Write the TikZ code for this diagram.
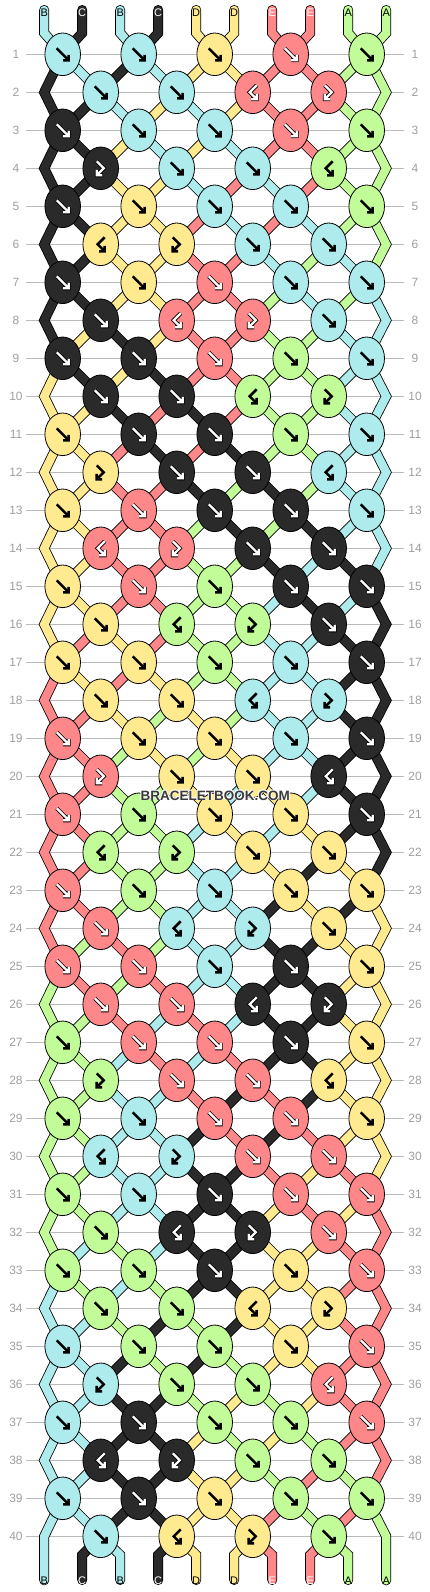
\documentclass[tikz,border=0pt]{standalone}
\usepackage{fontspec}
\setmainfont{Liberation Sans}
\usetikzlibrary{calc,shapes.geometric}

\definecolor{bbA}{HTML}{C2FC98}
\definecolor{bbB}{HTML}{AEEBEC}
\definecolor{bbC}{HTML}{2A2A2A}
\definecolor{bbD}{HTML}{FFEA90}
\definecolor{bbE}{HTML}{FE878A}
\colorlet{tabA}{black}
\colorlet{tabB}{black}
\colorlet{tabC}{white}
\colorlet{tabD}{black}
\colorlet{tabE}{white}
\definecolor{rowgray}{HTML}{BBBBBB}
\definecolor{numgray}{HTML}{9E9E9E}
\definecolor{markgray}{HTML}{3A3A3A}

\pgfdeclarelayer{strings}
\pgfsetlayers{strings,main}

\tikzset{
  knot/.style={ellipse, draw=black, line width=0.8pt, minimum width=35.6pt, minimum height=42.6pt, inner sep=0pt},
  strand/.style={draw=black, line width=0.8pt, double=#1, double distance=8.4pt, line join=miter, line cap=round},
  inkA/.style={draw=black, line width=2.5pt},
  inkB/.style={inkA},
  inkD/.style={inkA},
  inkC/.style={draw=black, line width=0.8pt, double=white, double distance=2.3pt},
  inkE/.style={inkC},
  tablbl/.style={font=\fontsize{11}{11}\selectfont, inner sep=0pt},
  rownum/.style={font=\fontsize{12}{12}\selectfont, text=numgray, inner sep=0pt},
  wmark/.style={font=\bfseries\fontsize{13.5}{13.5}\selectfont, inner sep=0pt},
  pics/gF/.style={code={\draw[ink#1] (-6,-6) -- (6,6) (6,0.5) -- (6,6) -- (0.5,6);}},
  pics/gL/.style={code={\draw[ink#1] (-4,-7) -- (3,0) -- (-4,7) (-4,1.5) -- (-4,7) -- (1.5,7);}},
  pics/gR/.style={code={\draw[ink#1] (4,-7) -- (-3,0) -- (4,7) (4,1.5) -- (4,7) -- (-1.5,7);}},
}

\begin{document}
\begin{tikzpicture}[x=1pt,y=-1pt]
\useasboundingbox (0,0) rectangle (430,1592);

% row numbers
\foreach \r in {1,...,40}{
  \node[rownum] (nl-\r) at (16,{16.3+38*\r}) {\r};
  \node[rownum] (nr-\r) at (415,{16.3+38*\r}) {\r};
}

% knots: colour/type per row (F forward, L forward-backward, R backward-forward)
\foreach \row [count=\r] in {
  {B/F,B/F,D/F,E/F,A/F}, {B/F,B/F,E/R,E/L},
  {C/F,B/F,B/F,E/F,A/F}, {C/L,B/F,B/F,A/R},
  {C/F,D/F,B/F,B/F,A/F}, {D/R,D/L,B/F,B/F},
  {C/F,D/F,E/F,B/F,B/F}, {C/F,E/R,E/L,B/F},
  {C/F,C/F,E/F,A/F,B/F}, {C/F,C/F,A/R,A/L},
  {D/F,C/F,C/F,A/F,B/F}, {D/L,C/F,C/F,B/R},
  {D/F,E/F,C/F,C/F,B/F}, {E/R,E/L,C/F,C/F},
  {D/F,E/F,A/F,C/F,C/F}, {D/F,A/R,A/L,C/F},
  {D/F,D/F,A/F,B/F,C/F}, {D/F,D/F,B/R,B/L},
  {E/F,D/F,D/F,B/F,C/F}, {E/L,D/F,D/F,C/R},
  {E/F,A/F,D/F,D/F,C/F}, {A/R,A/L,D/F,D/F},
  {E/F,A/F,B/F,D/F,D/F}, {E/F,B/R,B/L,D/F},
  {E/F,E/F,B/F,C/F,D/F}, {E/F,E/F,C/R,C/L},
  {A/F,E/F,E/F,C/F,D/F}, {A/L,E/F,E/F,D/R},
  {A/F,B/F,E/F,E/F,D/F}, {B/R,B/L,E/F,E/F},
  {A/F,B/F,C/F,E/F,E/F}, {A/F,C/R,C/L,E/F},
  {A/F,A/F,C/F,D/F,E/F}, {A/F,A/F,D/R,D/L},
  {B/F,A/F,A/F,D/F,E/F}, {B/L,A/F,A/F,E/R},
  {B/F,C/F,A/F,A/F,E/F}, {C/R,C/L,A/F,A/F},
  {B/F,C/F,D/F,A/F,A/F}, {B/F,D/R,D/L,A/F}}{
  \foreach \c/\t [count=\i] in \row {
    \pgfmathtruncatemacro\pp{2*\i-mod(\r,2)}
    \node[knot, fill=bb\c] (k-\r-\pp) at ({24.7+38*\pp},{16.3+38*\r}) {};
    \pic at (k-\r-\pp.center) {g\t=\c};
  }
}

% bends of the edge strings
\foreach \r in {2,4,...,40}{
  \coordinate (eL-\r) at (44.2,{16.3+38*\r});
  \coordinate (eR-\r) at (386.2,{16.3+38*\r});
}

\begin{pgfonlayer}{strings}
\foreach \r in {1,...,40}
  \draw[rowgray, line width=0.9pt] (26,{16.3+38*\r}) -- (404,{16.3+38*\r});

% top ends
\foreach \c [count=\q] in {B,C,B,C,D,D,E,E,A,A}{
  \pgfmathtruncatemacro\pp{\q-mod(\q+1,2)}
  \draw[strand=bb\c] ({6.2+38*\q},10) -- ({6.2+38*\q},33) -- (k-1-\pp.center);
}

% colours on each position after every row
\foreach \st [count=\r] in {
  {C,B,C,B,D,D,E,E,A,A}, {C,C,B,D,B,D,E,E,A,A}, {C,C,D,B,D,B,E,E,A,A},
  {C,C,D,D,B,E,B,E,A,A}, {C,C,D,D,E,B,E,B,A,A}, {C,C,D,D,E,E,B,A,B,A},
  {C,C,D,D,E,E,A,B,A,B}, {C,D,C,D,E,E,A,A,B,B}, {D,C,D,C,E,E,A,A,B,B},
  {D,D,C,E,C,E,A,A,B,B}, {D,D,E,C,E,C,A,A,B,B}, {D,D,E,E,C,A,C,A,B,B},
  {D,D,E,E,A,C,A,C,B,B}, {D,D,E,E,A,A,C,B,C,B}, {D,D,E,E,A,A,B,C,B,C},
  {D,E,D,E,A,A,B,B,C,C}, {E,D,E,D,A,A,B,B,C,C}, {E,E,D,A,D,A,B,B,C,C},
  {E,E,A,D,A,D,B,B,C,C}, {E,E,A,A,D,B,D,B,C,C}, {E,E,A,A,B,D,B,D,C,C},
  {E,E,A,A,B,B,D,C,D,C}, {E,E,A,A,B,B,C,D,C,D}, {E,A,E,A,B,B,C,C,D,D},
  {A,E,A,E,B,B,C,C,D,D}, {A,A,E,B,E,B,C,C,D,D}, {A,A,B,E,B,E,C,C,D,D},
  {A,A,B,B,E,C,E,C,D,D}, {A,A,B,B,C,E,C,E,D,D}, {A,A,B,B,C,C,E,D,E,D},
  {A,A,B,B,C,C,D,E,D,E}, {A,B,A,B,C,C,D,D,E,E}, {B,A,B,A,C,C,D,D,E,E},
  {B,B,A,C,A,C,D,D,E,E}, {B,B,C,A,C,A,D,D,E,E}, {B,B,C,C,A,D,A,D,E,E},
  {B,B,C,C,D,A,D,A,E,E}, {B,B,C,C,D,D,A,E,A,E}, {B,B,C,C,D,D,E,A,E,A}}{
  \foreach \c [count=\q] in \st {
    \pgfmathtruncatemacro\ps{\q-mod(\q+\r,2)}
    \pgfmathtruncatemacro\pd{\q-mod(\q+\r+1,2)}
    \pgfmathtruncatemacro\rn{\r+1}
    \pgfmathtruncatemacro\rnn{\r+2}
    \ifnum\ps=0 \else\ifnum\ps=10 \else
      \ifnum\pd=0
        \ifnum\rn=40 \draw[strand=bb\c] (k-\r-1.center) -- (eL-40) -- ++(0,44);
        \else \draw[strand=bb\c] (k-\r-1.center) -- (eL-\rn) -- (k-\rnn-1.center); \fi
      \else\ifnum\pd=10
        \ifnum\rn=40 \draw[strand=bb\c] (k-\r-9.center) -- (eR-40) -- ++(0,44);
        \else \draw[strand=bb\c] (k-\r-9.center) -- (eR-\rn) -- (k-\rnn-9.center); \fi
      \else
        \draw[strand=bb\c] (k-\r-\ps.center) -- (k-\rn-\pd.center);
      \fi\fi
    \fi\fi
  }
}

% bottom ends
\foreach \c [count=\q from 2] in {C,B,C,D,D,E,E,A}{
  \pgfmathtruncatemacro\pp{\q-mod(\q,2)}
  \draw[strand=bb\c] (k-40-\pp.center) -- ({6.2+38*\q},1555) -- ({6.2+38*\q},1580);
}
\end{pgfonlayer}

% string letters
\foreach \c [count=\q] in {B,C,B,C,D,D,E,E,A,A}{
  \node[tablbl, text=tab\c] (top-\q) at ({6.2+38*\q},12.5) {\c};
  \node[tablbl, text=tab\c] (bot-\q) at ({6.2+38*\q},1580.5) {\c};
}

% watermark
\foreach \dx/\dy [count=\n] in {0.8/0.8,-0.8/0.8,0.8/-0.8,-0.8/-0.8}
  \node[wmark, text=white] (wm-\n) at ({215.3+\dx},{795.5+\dy}) {BRACELETBOOK.COM};
\node[wmark, text=markgray] (wm) at (215.3,795.5) {BRACELETBOOK.COM};
\end{tikzpicture}
\end{document}
